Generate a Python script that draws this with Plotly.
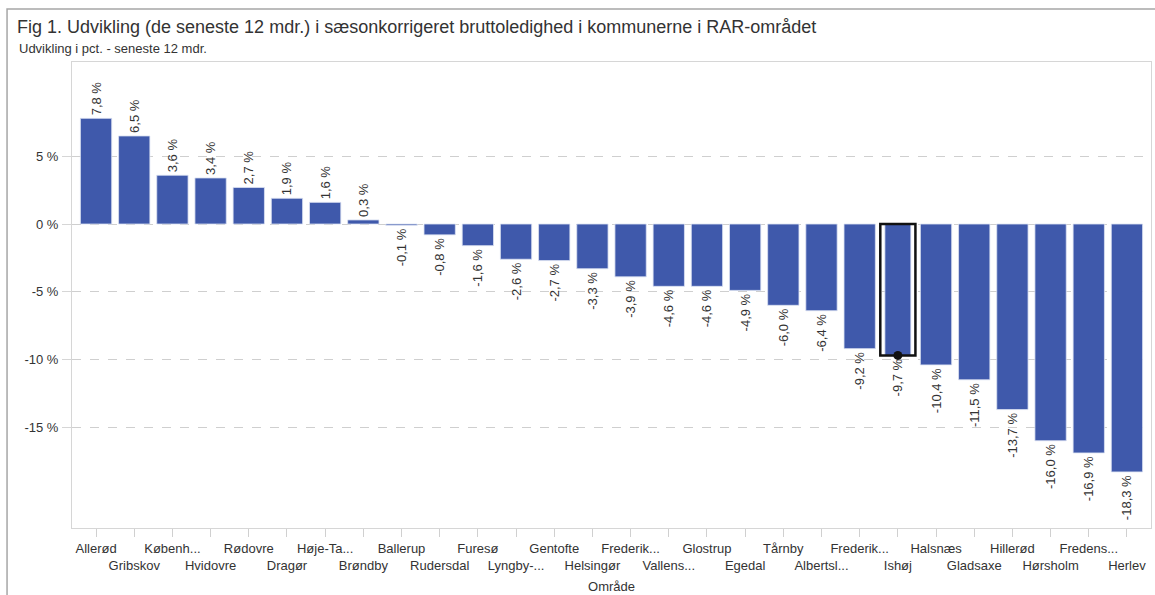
import plotly.graph_objects as go

names = ["Allerød", "Gribskov", "Københ...", "Hvidovre", "Rødovre", "Dragør", "Høje-Ta...",
         "Brøndby", "Ballerup", "Rudersdal", "Furesø", "Lyngby-...", "Gentofte", "Helsingør",
         "Frederik...", "Vallens...", "Glostrup", "Egedal", "Tårnby", "Albertsl...", "Frederik...",
         "Ishøj", "Halsnæs", "Gladsaxe", "Hillerød", "Hørsholm", "Fredens...", "Herlev"]
values = [7.8, 6.5, 3.6, 3.4, 2.7, 1.9, 1.6, 0.3, -0.1, -0.8, -1.6, -2.6, -2.7, -3.3,
          -3.9, -4.6, -4.6, -4.9, -6.0, -6.4, -9.2, -9.7, -10.4, -11.5, -13.7, -16.0, -16.9, -18.3]
highlight = "Ishøj"
y_ticks = [5, 0, -5, -10, -15]
y_ticktext = ["5 %", "0 %", "-5 %", "-10 %", "-15 %"]

BAR = "#3F59AB"
TXT = "#333333"
FONT = "Liberation Sans, Arial, sans-serif"

xs = list(range(len(names)))
labels = [f"{v:.1f} %".replace(".", ",") for v in values]
tick_text = [n if i % 2 == 0 else "<br>" + n for i, n in enumerate(names)]
hi = names.index(highlight)
widths = [0.68 if i == hi else 0.82 for i in xs]

fig = go.Figure()
fig.add_trace(go.Bar(
    x=xs, y=values, width=widths,
    marker=dict(color=BAR, line=dict(color="#DCE2F2", width=0.8)),
    text=labels, textposition="outside", textangle=-90,
    textfont=dict(size=13, color=TXT, family=FONT),
    constraintext="none", cliponaxis=False, hoverinfo="skip",
))
fig.add_trace(go.Bar(
    x=[xs[hi]], y=[values[hi]], width=[0.92],
    marker=dict(color="rgba(0,0,0,0)", line=dict(color="#111111", width=2.5)),
    hoverinfo="skip",
))
fig.add_trace(go.Scatter(
    x=[xs[hi]], y=[values[hi]], mode="markers",
    marker=dict(color="#111111", size=9, symbol="circle"),
    hoverinfo="skip", cliponaxis=True,
))

fig.update_layout(
    width=1155, height=595,
    margin=dict(l=72, r=4, t=62, b=67),
    paper_bgcolor="white", plot_bgcolor="white",
    barmode="overlay", showlegend=False,
    font=dict(family=FONT, color=TXT, size=13),
    title=dict(
        text="Fig 1. Udvikling (de seneste 12 mdr.) i sæsonkorrigeret bruttoledighed i kommunerne i RAR-området",
        x=17 / 1155, xref="container", xanchor="left",
        y=1 - 27 / 595, yref="container", yanchor="middle",
        pad=dict(l=0, r=0, t=0, b=0),
        font=dict(size=18, color=TXT, family=FONT),
    ),
    annotations=[dict(
        text="Udvikling i pct. - seneste 12 mdr.", xref="paper", yref="paper",
        x=-0.051, y=1.03, xanchor="left", yanchor="middle", showarrow=False,
        font=dict(size=13, color=TXT, family=FONT),
    )],
    shapes=[dict(
        type="rect", xref="paper", yref="paper",
        x0=-0.0602, x1=1.02, y0=-0.2, y1=1.1137,
        line=dict(color="#A6A6A6", width=1.5), layer="below",
    )],
)

fig.update_xaxes(
    range=[-0.63, len(names) - 1 + 0.63],
    tickmode="array", tickvals=xs, ticktext=tick_text, tickangle=0,
    ticks="outside", ticklen=8, tickcolor="#D0D0D0",
    tickfont=dict(size=13, color=TXT, family=FONT),
    showline=True, linecolor="#D6D6D6", linewidth=1, mirror=True,
    showgrid=False, zeroline=False,
    title=dict(text="Område", font=dict(size=13, color=TXT, family=FONT), standoff=10),
)
fig.update_yaxes(
    range=[-22.44, 11.96],
    tickmode="array", tickvals=y_ticks, ticktext=y_ticktext,
    tickfont=dict(size=13, color=TXT, family=FONT),
    ticks="outside", ticklen=9, tickcolor="#D6D6D6", ticklabelstandoff=1,
    showline=True, linecolor="#D6D6D6", linewidth=1, mirror=True,
    showgrid=True, gridcolor="#CFCFCF", griddash="dash", gridwidth=1,
    zeroline=False,
)

fig.write_html(
    "out.html",
    config={"displayModeBar": False},
    post_script="document.body.style.margin='0px';document.body.style.overflow='hidden';",
)
